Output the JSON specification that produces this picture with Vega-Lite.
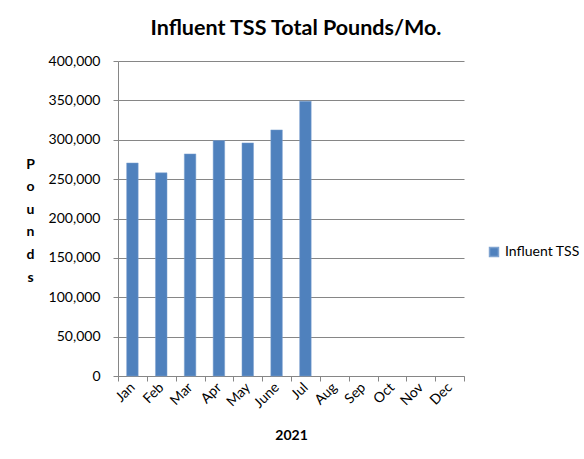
{
  "$schema": "https://vega.github.io/schema/vega-lite/v6.json",
  "width": 346,
  "height": 315,
  "autosize": {"type": "none"},
  "padding": {"left": 118, "top": 61, "right": 120, "bottom": 83},
  "background": "white",
  "title": {"text": "Influent TSS Total Pounds/Mo.", "font": "Lato", "fontSize": 21.5, "fontWeight": "bold", "color": "#000000", "anchor": "middle", "offset": 15, "dx": 5},
  "data": {"values": [
    {"month": "Jan", "pounds": 270500, "series": "Influent TSS"},
    {"month": "Feb", "pounds": 258000, "series": "Influent TSS"},
    {"month": "Mar", "pounds": 282000, "series": "Influent TSS"},
    {"month": "Apr", "pounds": 299000, "series": "Influent TSS"},
    {"month": "May", "pounds": 296000, "series": "Influent TSS"},
    {"month": "June", "pounds": 312500, "series": "Influent TSS"},
    {"month": "Jul", "pounds": 349000, "series": "Influent TSS"},
    {"month": "Aug", "pounds": null, "series": "Influent TSS"},
    {"month": "Sep", "pounds": null, "series": "Influent TSS"},
    {"month": "Oct", "pounds": null, "series": "Influent TSS"},
    {"month": "Nov", "pounds": null, "series": "Influent TSS"},
    {"month": "Dec", "pounds": null, "series": "Influent TSS"}
  ]},
  "mark": {"type": "bar", "width": {"band": 0.4}, "stroke": "#7fa3d0", "strokeWidth": 0.5},
  "encoding": {
    "x": {
      "field": "month", "type": "nominal",
      "sort": ["Jan","Feb","Mar","Apr","May","June","Jul","Aug","Sep","Oct","Nov","Dec"],
      "scale": {"paddingInner": 0, "paddingOuter": 0},
      "axis": {
        "title": "2021", "titleFont": "Lato", "titleFontSize": 14, "titleFontWeight": "bold", "titleColor": "#000000",
        "titleY": 52, "titleBaseline": "top",
        "labelAngle": -45, "labelAlign": "right", "labelBaseline": "middle", "labelFont": "Lato", "labelFontSize": 14, "labelColor": "#000000", "labelPadding": 4,
        "tickBand": "extent", "tickSize": 5, "tickColor": "#868686", "domainColor": "#868686", "grid": false
      }
    },
    "y": {
      "field": "pounds", "type": "quantitative",
      "scale": {"domain": [0, 400000]},
      "axis": {
        "values": [0,50000,100000,150000,200000,250000,300000,350000,400000],
        "format": ",.0f", "title": ["P","o","u","n","d","s"], "titleAngle": 0,
        "titleFont": "Lato", "titleFontSize": 14, "titleFontWeight": "bold", "titleColor": "#000000",
        "titleX": -88, "titleY": 96, "titleAlign": "center", "titleBaseline": "top", "titleLineHeight": 22.6,
        "labelFont": "Lato", "labelFontSize": 14, "labelColor": "#000000", "labelPadding": 13,
        "tickSize": 5, "tickColor": "#868686", "domainColor": "#868686",
        "grid": true, "gridColor": "#868686", "gridWidth": 1
      }
    },
    "color": {
      "field": "series", "type": "nominal",
      "scale": {"range": ["#4F81BD"]},
      "legend": {"title": null, "orient": "none", "legendX": 369, "legendY": 184, "symbolType": "square", "symbolSize": 80, "labelFont": "Lato", "labelFontSize": 14, "labelColor": "#000000", "labelOffset": 4}
    }
  },
  "config": {"view": {"stroke": null}}
}
